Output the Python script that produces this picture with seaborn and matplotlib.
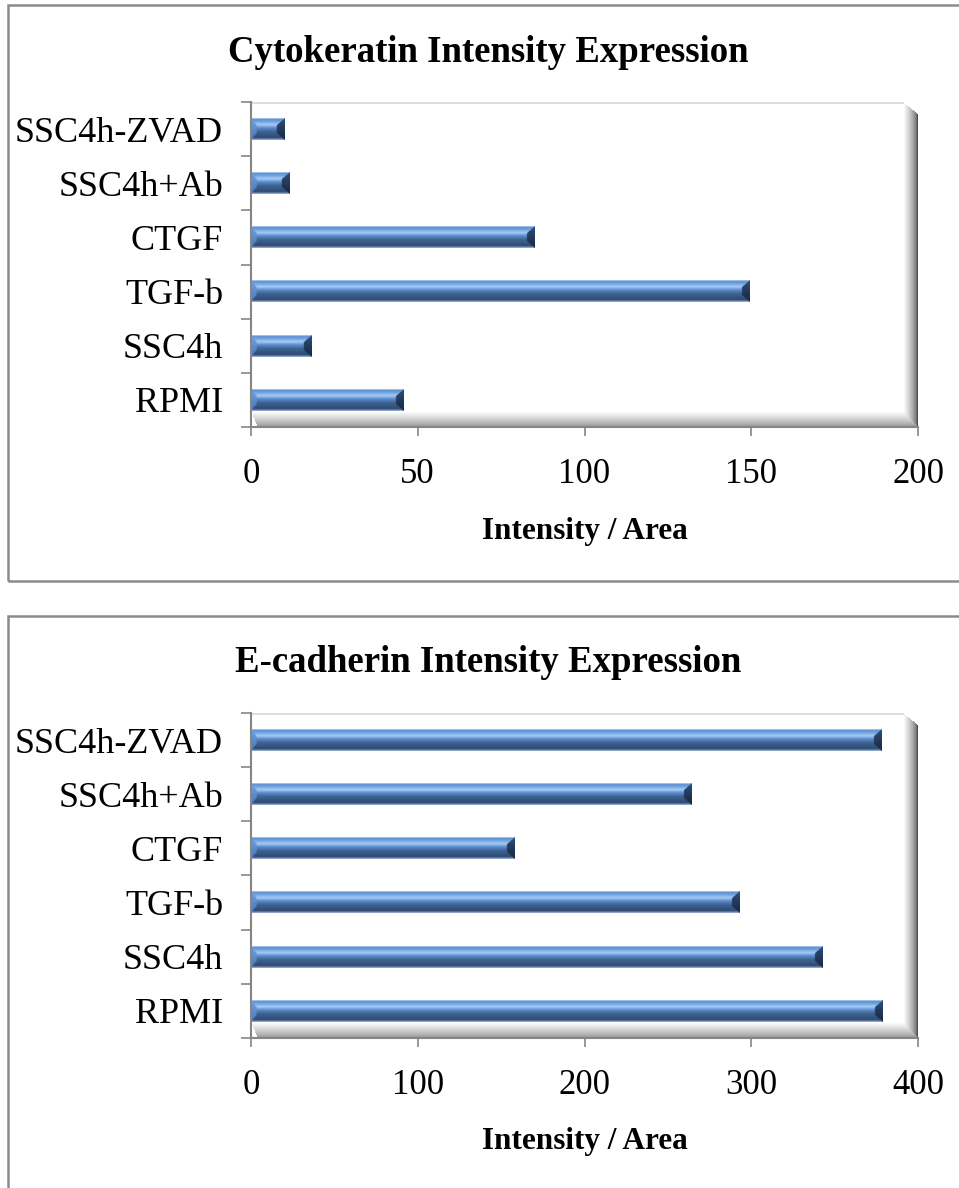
import numpy as np
import pandas as pd
import matplotlib
matplotlib.use("Agg")
import matplotlib.pyplot as plt
import seaborn as sns
from matplotlib.patches import Rectangle
from matplotlib.colors import to_rgb

# ---------------- data ----------------
categories = ["SSC4h-ZVAD", "SSC4h+Ab", "CTGF", "TGF-b", "SSC4h", "RPMI"]
cytokeratin = [10, 11.4, 85, 149.5, 18, 45.8]
ecadherin = [378, 264, 158, 293, 343, 378.5]
titles = ["Cytokeratin Intensity Expression", "E-cadherin Intensity Expression"]
x_label = "Intensity / Area"
xticks_top = [0, 50, 100, 150, 200]
xticks_bottom = [0, 100, 200, 300, 400]

# ---------------- style ----------------
sns.set_theme(style="white")
plt.rcParams["font.family"] = ["Liberation Serif", "DejaVu Serif"]

W, H = 959, 1188
fig = plt.figure(figsize=(W / 100, H / 100), dpi=100)
fig.patch.set_facecolor("white")

GRAY = "#868686"
BASE = "#4f81bd"


def gradient(stops_pos, stops_col, n):
    t = np.linspace(0, 1, n)
    cols = np.array([to_rgb(c) for c in stops_col])
    return np.stack([np.interp(t, stops_pos, cols[:, k]) for k in range(3)], axis=1)


def bar_image(wpx, hpx, s=3):
    w = max(int(round(wpx * s)), 2)
    h = max(int(round(hpx * s)), 2)
    prof = gradient([0, 0.05, 0.15, 0.3, 0.45, 0.62, 0.9, 1.0],
                    ["#c4d8f1", "#5b8ed0", "#6fa2e2", "#a6cbf6", "#5b8bca",
                     "#3e6393", "#2d4a71", "#9fb6d6"], h)
    img = np.repeat(prof[:, None, :], w, axis=1)
    rows = np.arange(h)[:, None]
    cols = np.arange(w)[None, :]
    dt = rows.astype(float)
    db = (h - 1 - rows).astype(float)
    dr = (w - 1 - cols).astype(float)
    dl = cols.astype(float)
    bw, bt = 8 * s, 7 * s
    right = (dr < bw) & (dr * bt < dt * bw) & (dr * bt < db * bw)
    left = (dl < bw * 0.7) & (dl * bt < dt * bw * 0.7) & (dl * bt < db * bw * 0.7)
    rprof = gradient([0, 0.5, 1], ["#30507a", "#22395a", "#18283f"], h)
    lprof = gradient([0, 0.5, 1], ["#74a4e0", "#5c8dcd", "#4a74ab"], h)
    rimg = np.repeat(rprof[:, None, :], w, axis=1)
    limg = np.repeat(lprof[:, None, :], w, axis=1)
    img = np.where(right[..., None], rimg, img)
    img = np.where(left[..., None], limg, img)
    return img


def frame_image(wpx, hpx):
    rows = np.arange(hpx)[:, None]
    cols = np.arange(wpx)[None, :]
    dt = rows.astype(float)
    db = (hpx - 1 - rows).astype(float)
    dr = (wpx - 1 - cols).astype(float)
    dl = cols.astype(float)
    ww, fh = 14.0, 15.0
    wall = (dr < ww) & (dt >= (ww - dr) * 0.8) & (db * ww >= dr * fh)
    tw = np.clip(dr / ww, 0, 1)
    gw = 0.30 + 0.70 * tw ** 0.6
    floor = (db < fh) & ~wall & (dl >= (fh - db) * 0.4)
    tf = np.clip(db / fh, 0, 1)
    gf = 0.58 + 0.42 * tf ** 0.8
    g = np.ones((hpx, wpx))
    g = np.where(wall, gw, g)
    g = np.where(floor, gf, g)
    top = (dt < 2) & (dr >= ww)
    g = np.where(top, 0.87, g)
    return np.repeat(g[..., None], 3, axis=2)


def draw_chart(dy, values, xticks, title):
    x0px, x1px, ytop, ybot = 251, 918, 102, 427
    ax = fig.add_axes([x0px / W, 1 - (ybot + dy) / H,
                       (x1px - x0px) / W, (ybot - ytop) / H])
    df = pd.DataFrame({"category": categories, "value": values})
    sns.barplot(data=df, x="value", y="category", order=categories,
                orient="h", color=BASE, saturation=1, width=0.4,
                edgecolor="none", ax=ax, zorder=2)
    xlim = (xticks[0], xticks[-1])
    ylim = (len(categories) - 0.5, -0.5)

    # plot-area 3D frame (floor and wall)
    fimg = frame_image(x1px - x0px, ybot - ytop)
    ax.imshow(fimg, extent=(0, 1, 0, 1), transform=ax.transAxes,
              aspect="auto", zorder=0, interpolation="bilinear")

    ax.set_xlim(*xlim)
    ax.set_ylim(*ylim)
    # bevelled gradient bars drawn over seaborn's bar patches
    for p in list(ax.patches):
        bx, by, bwid, bh = p.get_x(), p.get_y(), p.get_width(), p.get_height()
        (px0, py0) = ax.transData.transform((bx, by))
        (px1, py1) = ax.transData.transform((bx + bwid, by + bh))
        img = bar_image(abs(px1 - px0), abs(py1 - py0))
        ax.imshow(img, extent=(bx, bx + bwid, by + bh, by), aspect="auto",
                  zorder=3, interpolation="bilinear")
    ax.set_xlim(*xlim)
    ax.set_ylim(*ylim)

    ax.set_xticks(xticks)
    ax.set_xticklabels([str(t) for t in xticks])
    ax.set_yticks(range(len(categories)))
    ax.set_yticklabels(categories)
    ax.set_yticks(np.arange(-0.5, len(categories), 1.0), minor=True)
    ax.tick_params(axis="x", which="major", bottom=True, direction="out",
                   length=6.5, width=1.2, color=GRAY, pad=16, labelsize=25,
                   labelcolor="black")
    ax.tick_params(axis="y", which="major", left=True, length=0, pad=20,
                   labelsize=26, labelcolor="black")
    ax.tick_params(axis="y", which="minor", left=True, direction="out",
                   length=7.5, width=1.2, color=GRAY)
    for s in ["top", "right"]:
        ax.spines[s].set_visible(False)
    for s in ["left", "bottom"]:
        ax.spines[s].set_color(GRAY)
        ax.spines[s].set_linewidth(1.5)
        ax.spines[s].set_zorder(4)
    ax.grid(False)
    ax.set_ylabel("")
    ax.set_xlabel(x_label, fontsize=22.5, fontweight="bold", color="black")
    ax.xaxis.set_label_coords(0.5, -(531 - ybot) / (ybot - ytop))
    ax.xaxis.label.set_va("center")
    ax.set_title(title, fontsize=26.5, fontweight="bold", color="black",
                 x=(488 - x0px) / (x1px - x0px),
                 y=(ybot - 52) / (ybot - ytop), va="center", pad=0)

    # chart box
    fig.add_artist(Rectangle((8 / W, 1 - (581 + dy) / H), (W + 20) / W,
                             (581 - 5) / H, transform=fig.transFigure,
                             fill=False, edgecolor="#8a8a8a", linewidth=1.8))
    return ax


draw_chart(0, cytokeratin, xticks_top, titles[0])
draw_chart(611, ecadherin, xticks_bottom, titles[1])

fig.savefig("out.png", dpi=100, facecolor="white")
